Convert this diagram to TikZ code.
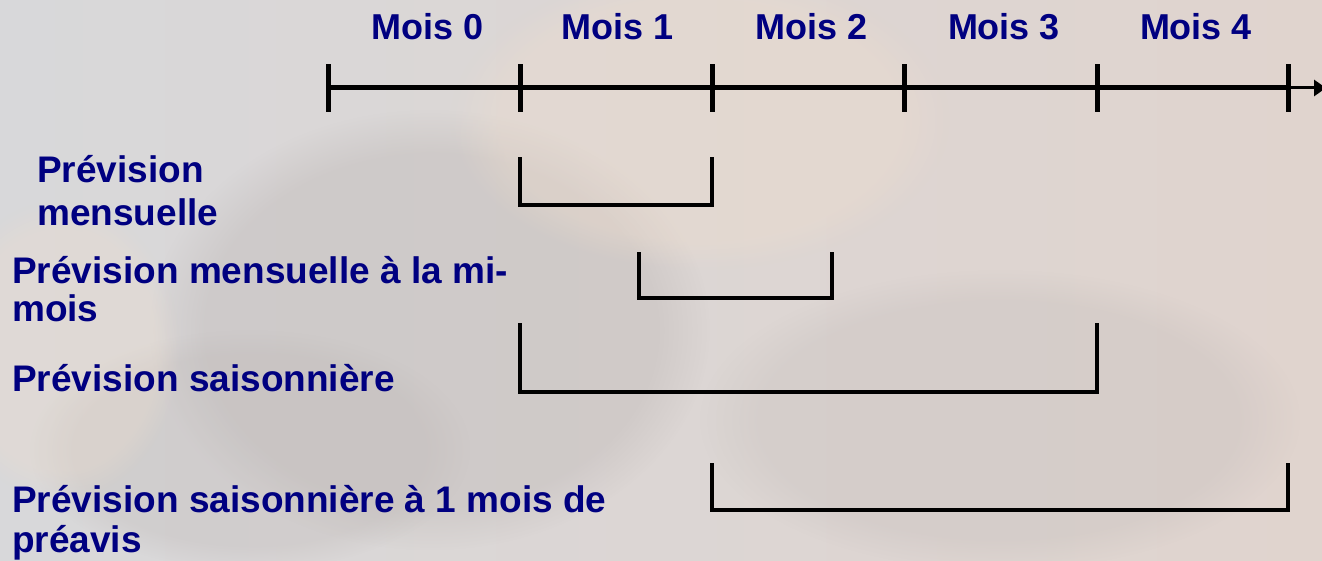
\documentclass[tikz,border=0pt]{standalone}
\usepackage{fontspec}
\setmainfont{Liberation Sans}
\usetikzlibrary{arrows.meta,fadings}
\definecolor{navy}{RGB}{0,0,128}
\definecolor{bgleft}{RGB}{216,216,218}
\definecolor{bgright}{RGB}{224,212,206}
\definecolor{cloud}{RGB}{190,184,182}
\definecolor{warm}{RGB}{240,222,205}
\tikzset{
  lbl/.style={text=navy,font=\fontsize{37}{40}\selectfont\bfseries,inner sep=0pt,align=left},
  mois/.style={text=navy,font=\fontsize{36}{43}\selectfont\bfseries,inner sep=0pt,anchor=base},
  axis/.style={line width=5pt,black},
  tick/.style={line width=5pt,black},
  bracket/.style={line width=4pt,black,line cap=rect},
  blob/.style={path fading=circle with fuzzy edge 20 percent},
}
\begin{document}
\begin{tikzpicture}[x=1pt,y=-1pt]
\useasboundingbox (0,0) rectangle (1322,561);
\begin{scope}
\clip (0,0) rectangle (1322,561);
\shade[left color=bgleft,right color=bgright] (0,0) rectangle (1322,561);
\fill[cloud,opacity=0.4,blob] (430,330) ellipse (280 and 220);
\fill[cloud,opacity=0.3,blob] (250,450) ellipse (220 and 120);
\fill[warm,opacity=0.35,blob] (700,120) ellipse (250 and 150);
\fill[warm,opacity=0.3,blob] (60,350) ellipse (120 and 150);
\fill[cloud,opacity=0.25,blob] (1000,420) ellipse (300 and 150);
% axis
\coordinate (t0) at (328,88);
\coordinate (t1) at (520,88);
\coordinate (t2) at (712,88);
\coordinate (t3) at (904,88);
\coordinate (t4) at (1097,88);
\coordinate (t5) at (1288,88);
\coordinate (tend) at (1326,88);
\draw[axis] (t0) -- (t5);
\draw[line width=3pt,-{Triangle[length=12pt,width=16pt]}] (t5) -- (tend);
\foreach \i in {0,...,5} {
  \draw[tick] ([yshift=-24pt]t\i) -- ([yshift=24pt]t\i);
}
\end{scope}
% month labels
\node[mois] (m0) at (428,40) {Mois 0};
\node[mois] (m1) at (618,40) {Mois 1};
\node[mois] (m2) at (812,40) {Mois 2};
\node[mois] (m3) at (1004,40) {Mois 3};
\node[mois] (m4) at (1196,40) {Mois 4};
% brackets
\draw[bracket] (520,159) -- (520,205) -- (712,205) -- (712,159);
\draw[bracket] (639,254) -- (639,298) -- (832,298) -- (832,254);
\draw[bracket] (520,325) -- (520,392) -- (1097,392) -- (1097,325);
\draw[bracket] (712,465) -- (712,510) -- (1288,510) -- (1288,465);
% labels (base = baseline of last line)
\node[lbl,anchor=base west] (l1) at (37,226) {Prévision\\[3pt]mensuelle};
\node[lbl,anchor=base west] (l2) at (12,321) {Prévision mensuelle à la mi-\\[-2pt]mois};
\node[lbl,anchor=base west] (l3) at (12,391) {Prévision saisonnière};
\node[lbl,anchor=base west] (l4) at (12,552) {Prévision saisonnière à 1 mois de\\préavis};
\end{tikzpicture}
\end{document}
